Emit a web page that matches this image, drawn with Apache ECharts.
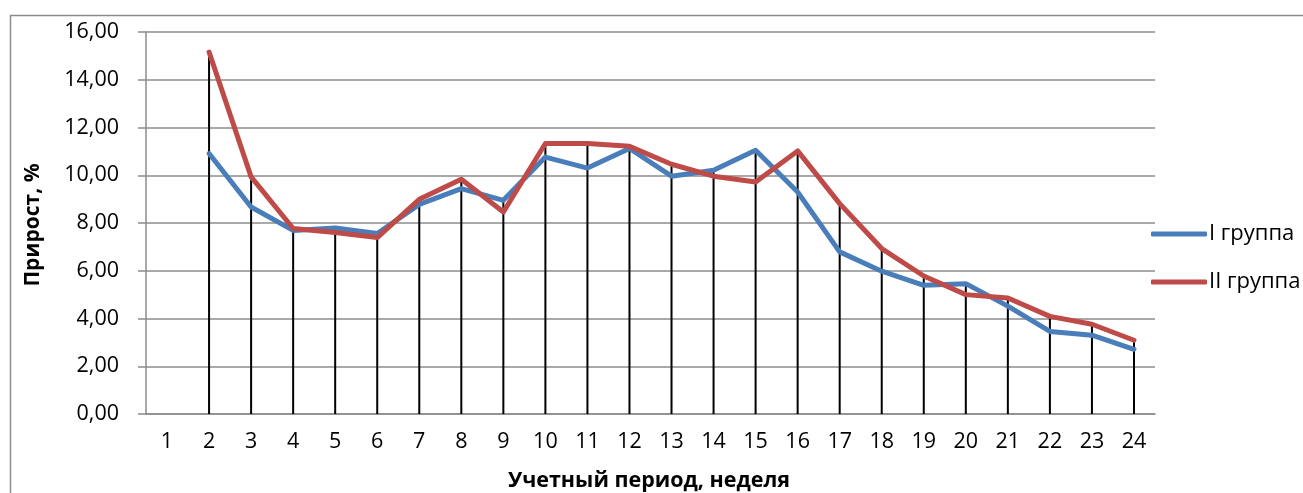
<!DOCTYPE html>
<html>
<head>
<meta charset="utf-8">
<script src="https://cdn.jsdelivr.net/npm/echarts@6/dist/echarts.min.js"></script>
<style>
html,body{margin:0;padding:0;background:#fff;}
#chart{width:1303px;height:493px;}
</style>
</head>
<body>
<div id="chart"></div>
<script>
const categories = ['1','2','3','4','5','6','7','8','9','10','11','12','13','14','15','16','17','18','19','20','21','22','23','24'];
const group1 = [null, 10.91, 8.67, 7.69, 7.79, 7.56, 8.78, 9.44, 8.95, 10.76, 10.30, 11.12, 9.96, 10.21, 11.05, 9.30, 6.79, 5.98, 5.39, 5.46, 4.52, 3.46, 3.30, 2.71];
const group2 = [null, 15.16, 9.93, 7.77, 7.60, 7.39, 8.99, 9.83, 8.46, 11.33, 11.33, 11.21, 10.46, 9.96, 9.72, 11.02, 8.81, 6.93, 5.78, 5.00, 4.86, 4.09, 3.76, 3.09];
const yTicks = { min: 0, max: 16, interval: 2 };
const seriesNames = ['I группа', 'II группа'];

const dropTops = categories.map((c, i) => {
  const a = group1[i], b = group2[i];
  if (a == null && b == null) return null;
  return Math.max(a == null ? -Infinity : a, b == null ? -Infinity : b);
});

const FONT = '"Open Sans", "Liberation Sans", sans-serif';
const chart = echarts.init(document.getElementById('chart'), null, { renderer: 'canvas' });
chart.setOption({
  animation: false,
  backgroundColor: '#fff',
  graphic: [
    { type: 'rect', shape: { x: 10.5, y: 15.5, width: 1400, height: 600 }, style: { fill: 'none', stroke: '#8c8c8c', lineWidth: 1.5 }, silent: true, z: -10 },
    { type: 'text', rotation: Math.PI / 2,
      style: { text: 'Прирост, %', font: 'bold 21px ' + FONT, fill: '#000', align: 'center', verticalAlign: 'middle' },
      position: [33, 225] },
    { type: 'text', style: { text: 'Учетный период, неделя', font: 'bold 21.5px ' + FONT, fill: '#000', align: 'center', verticalAlign: 'middle' },
      position: [649, 481] }
  ],
  legend: {
    orient: 'vertical',
    left: 1146,
    top: 218,
    itemWidth: 56,
    itemHeight: 5,
    itemGap: 26,
    icon: 'roundRect',
    textStyle: { fontFamily: FONT, fontSize: 22, lineHeight: 22, color: '#000', padding: [0, 0, 0, -3] },
    data: seriesNames
  },
  grid: { left: 146, right: 148, top: 32, bottom: 79, containLabel: false },
  xAxis: {
    type: 'category',
    data: categories,
    boundaryGap: true,
    axisLine: { show: true, lineStyle: { color: '#8c8c8c', width: 1.5 } },
    axisTick: { show: false },
    axisLabel: { fontFamily: FONT, fontSize: 21.5, color: '#000', margin: 17 },
    splitLine: { show: false }
  },
  yAxis: {
    type: 'value',
    min: yTicks.min, max: yTicks.max, interval: yTicks.interval,
    axisLine: { show: true, lineStyle: { color: '#8c8c8c', width: 1.5 } },
    axisTick: { show: true, length: 8, lineStyle: { color: '#8c8c8c', width: 1.5 } },
    axisLabel: { fontFamily: FONT, fontSize: 21.5, color: '#000', margin: 27,
      formatter: v => v.toFixed(2).replace('.', ',') },
    splitLine: { show: true, lineStyle: { color: '#8c8c8c', width: 1.5 } }
  },
  series: [
    {
      name: 'drop',
      type: 'bar',
      data: dropTops,
      barWidth: 2,
      itemStyle: { color: '#000' },
      silent: true,
      z: 1
    },
    {
      name: seriesNames[0],
      type: 'line',
      data: group1,
      showSymbol: false,
      symbol: 'none',
      lineStyle: { color: '#4A7EBB', width: 5, cap: 'round', join: 'round' },
      itemStyle: { color: '#4A7EBB' },
      z: 3
    },
    {
      name: seriesNames[1],
      type: 'line',
      data: group2,
      showSymbol: false,
      symbol: 'none',
      lineStyle: { color: '#BE4B48', width: 5, cap: 'round', join: 'round' },
      itemStyle: { color: '#BE4B48' },
      z: 4
    }
  ]
});
</script>
</body>
</html>
